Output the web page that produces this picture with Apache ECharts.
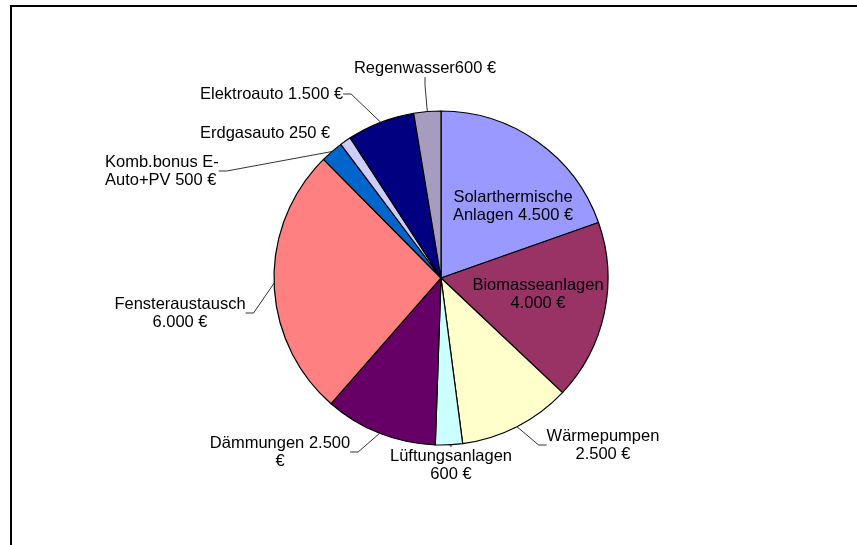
<!DOCTYPE html>
<html lang="de">
<head>
  <meta charset="UTF-8" />
  <title>Förderung</title>
  <script src="https://cdn.jsdelivr.net/npm/echarts@6/dist/echarts.min.js"></script>
  <style>
    html, body { margin: 0; padding: 0; background: #fff; }
    #frame { position: absolute; left: 10px; top: 5px; width: 900px; height: 600px;
             border-left: 2px solid #000; border-top: 2px solid #000; }
    #chart { position: absolute; left: 0; top: 0; width: 857px; height: 545px; }
  </style>
</head>
<body>
  <div id="frame"></div>
  <div id="chart"></div>

  <script>
    // Kategorien und Beträge in Euro (im Uhrzeigersinn ab 12 Uhr)
    const names = ['Solarthermische Anlagen', 'Biomasseanlagen', 'Wärmepumpen', 'Lüftungsanlagen',
                   'Dämmungen', 'Fensteraustausch', 'Komb.bonus E-Auto+PV', 'Erdgasauto',
                   'Elektroauto', 'Regenwasser'];
    const values = [4500, 4000, 2500, 600, 2500, 6000, 500, 250, 1500, 600];
    // Beschriftung wie im Original umbrochen
    const labelText = [
      'Solarthermische\nAnlagen {v} €',
      'Biomasseanlagen\n{v} €',
      'Wärmepumpen\n{v} €',
      'Lüftungsanlagen\n{v} €',
      'Dämmungen {v}\n€',
      'Fensteraustausch\n{v} €',
      'Komb.bonus E-\nAuto+PV {v} €',
      'Erdgasauto {v} €',
      'Elektroauto {v} €',
      'Regenwasser{v} €'
    ];
    const colors = ['#9999ff', '#993366', '#ffffcc', '#ccffff', '#660066',
                    '#ff8080', '#0066cc', '#ccccff', '#000080', '#a69cc0'];

    // Lage der Beschriftungen (Ankerpunkt, Ausrichtung)
    const labelPos = [
      [513, 206, 'center'], [538, 294, 'center'], [603, 445, 'center'], [451, 465, 'center'],
      [280, 452, 'center'], [180, 313, 'center'], [105, 171, 'left'], [200, 133, 'left'],
      [200, 94, 'left'], [425, 68, 'center']
    ];

    const fmt = v => String(v).replace(/\B(?=(\d{3})+(?!\d))/g, '.');

    const chart = echarts.init(document.getElementById('chart'));
    chart.setOption({
      animation: false,
      series: [{
        type: 'pie',
        center: [441, 278],
        radius: 167,
        startAngle: 90,
        clockwise: true,
        avoidLabelOverlap: false,
        itemStyle: { borderColor: '#000', borderWidth: 1.2 },
        label: {
          color: '#000',
          fontFamily: 'Liberation Sans, Arial, sans-serif',
          fontSize: 16.5,
          lineHeight: 18,
          formatter: p => labelText[p.dataIndex].replace('{v}', fmt(p.value))
        },
        labelLine: { length: 12, length2: 8, lineStyle: { color: '#333', width: 1 } },
        labelLayout: p => ({
          x: labelPos[p.dataIndex][0],
          y: labelPos[p.dataIndex][1],
          align: labelPos[p.dataIndex][2],
          verticalAlign: 'middle',
          hideOverlap: false
        }),
        data: names.map((n, i) => ({
          name: n,
          value: values[i],
          itemStyle: { color: colors[i] },
          label: i < 2 ? { position: 'inside' } : undefined,
          labelLine: i === 7 ? { show: false } : undefined
        }))
      }]
    });
  </script>
</body>
</html>
